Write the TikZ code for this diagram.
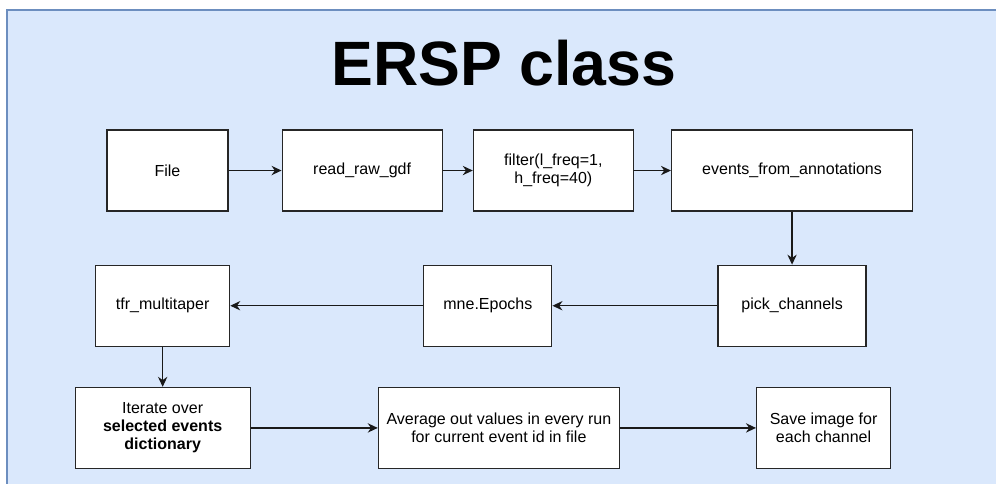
\documentclass[tikz,border=0pt]{standalone}
\usepackage{fontspec}
\setmainfont{Liberation Sans}
\usepackage{tikz}
\usetikzlibrary{arrows.meta, positioning}

\definecolor{panelfill}{HTML}{DAE8FC}
\definecolor{panelline}{HTML}{6C8EBF}

\begin{document}
\begin{tikzpicture}[
        font=\fontsize{12pt}{13.5pt}\selectfont,
        block/.style={rectangle, draw, line width=0.9pt, draw=black!85, fill=white, minimum height=60.75pt, align=center, inner sep=2pt},
        flow/.style={-{Stealth[length=7.5pt, width=7pt]}, line width=0.9pt, black!90}
    ]
        % Canvas and panel
        \useasboundingbox (0,0) rectangle (747pt,-363pt);
        \draw[panelline, fill=panelfill, line width=0.8pt] (5.25pt,-7.5pt) rectangle (760pt,-380pt);

        % Title
        \node (title) at (378pt,-47.6pt) {\fontsize{47pt}{50pt}\selectfont\bfseries ERSP class};

        % Nodes
        \node[block, minimum width=90.75pt] (file) at (125.6pt,-127.9pt) {File};
        \node[block, minimum width=120pt, right=39.75pt of file] (readraw) {read\_raw\_gdf};
        \node[block, minimum width=120pt, right=22.5pt of readraw] (filter) {filter(l\_freq=1,\\h\_freq=40)};
        \node[block, minimum width=180.75pt, right=27.75pt of filter] (events) {events\_from\_annotations};
        \node[block, minimum width=111pt, below=39.75pt of events] (pick) {pick\_channels};
        \node[block, minimum width=96pt, left=123.75pt of pick] (epochs) {mne.Epochs};
        \node[block, minimum width=100.5pt, left=144.75pt of epochs] (tfr) {tfr\_multitaper};
        \node[block, minimum width=131.25pt, below=30pt of tfr] (iterate) {Iterate over\\\textbf{selected events}\\\textbf{dictionary}};
        \node[block, minimum width=180.75pt, right=95.25pt of iterate] (average) {Average out values in every run\\for current event id in file};
        \node[block, minimum width=100.5pt, right=102pt of average] (save) {Save image for\\each channel};

        % Paths
        \draw[flow] (file) -- (readraw);
        \draw[flow] (readraw) -- (filter);
        \draw[flow] (filter) -- (events);
        \draw[flow] (events) -- (pick);
        \draw[flow] (pick) -- (epochs);
        \draw[flow] (epochs) -- (tfr);
        \draw[flow] (tfr) -- (iterate);
        \draw[flow] (iterate) -- (average);
        \draw[flow] (average) -- (save);

    \end{tikzpicture}
\end{document}
